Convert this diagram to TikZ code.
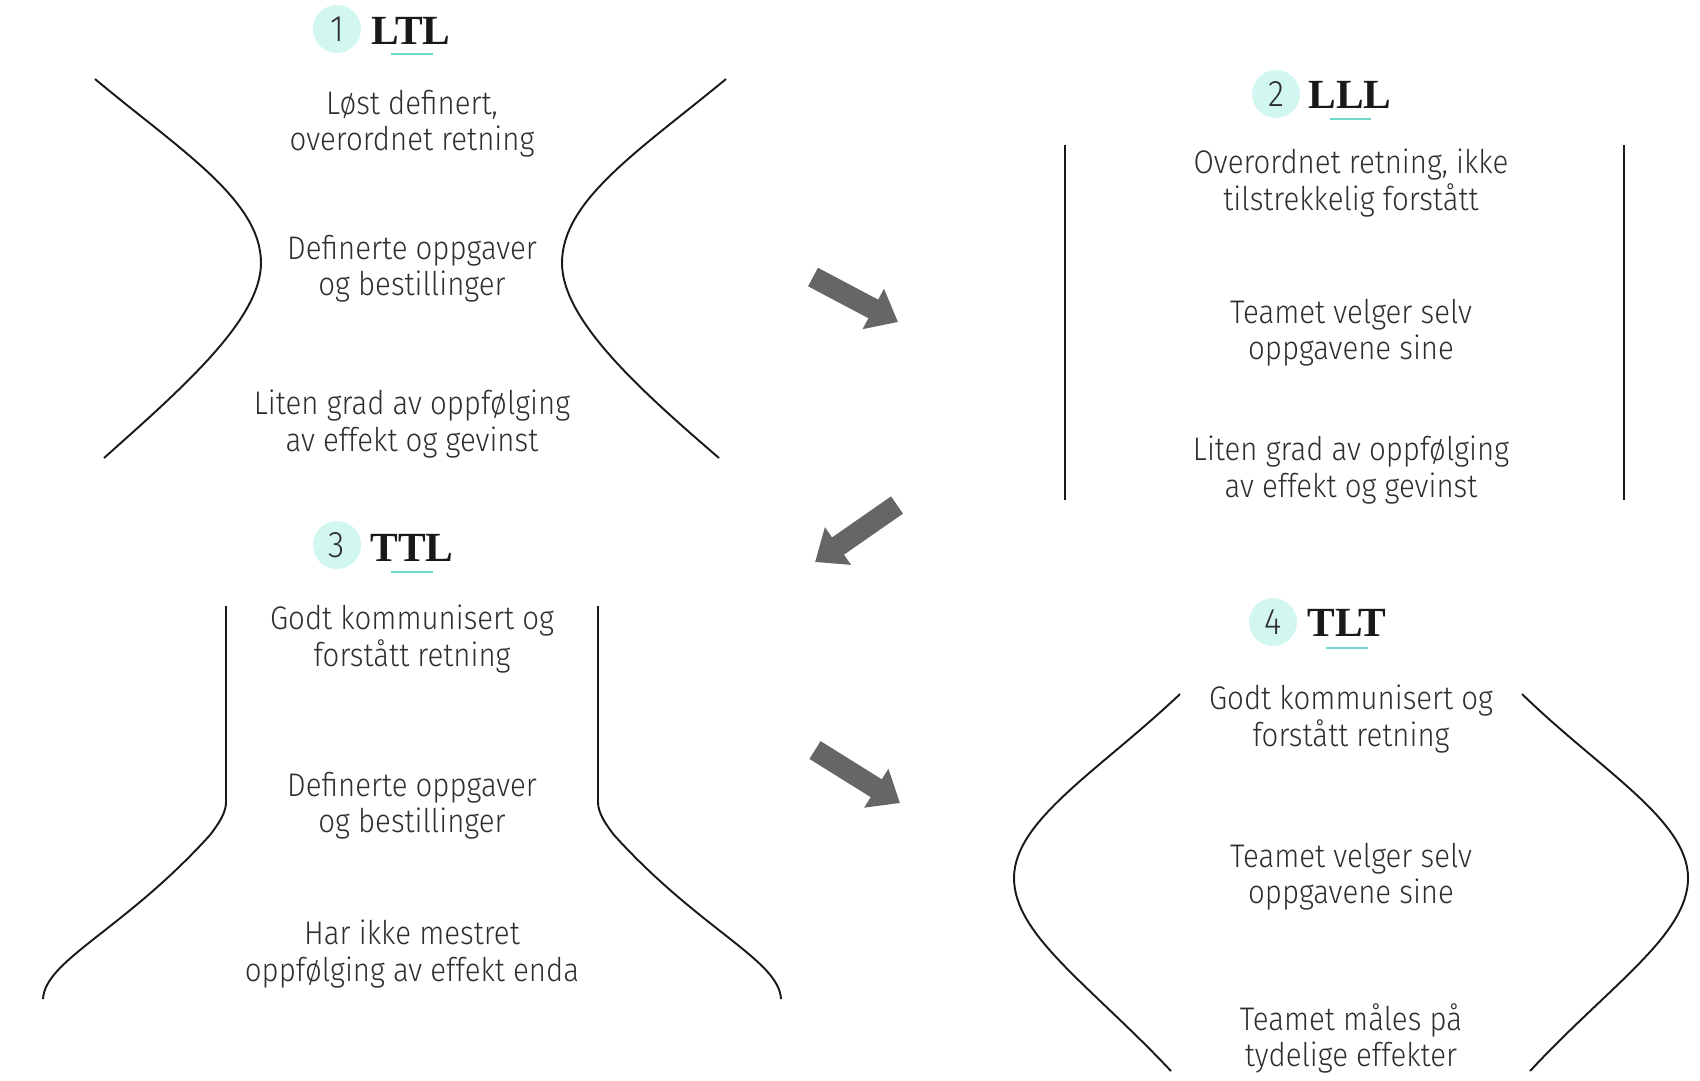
\documentclass[tikz,border=0pt]{standalone}
\usepackage{fontspec}
\setmainfont{Fira Sans}[UprightFont=* Light, FakeStretch=0.9]
\newfontfamily\titlefont{Liberation Serif}[UprightFont=* Bold]
\usetikzlibrary{arrows.meta}
\definecolor{mint}{HTML}{D2F7F1}
\definecolor{tealline}{HTML}{6ED8CB}
\definecolor{txt}{HTML}{2E2E2E}
\definecolor{arrowgray}{HTML}{666666}
\tikzset{
  body/.style={align=center, text=txt, font=\fontsize{9.3}{10.3}\selectfont, inner sep=0pt},
  numcircle/.style={circle, fill=mint, minimum size=4.8mm, inner sep=0pt, text=txt, font=\fontsize{10.5}{12}\selectfont},
  ttl/.style={text=black!90, font=\titlefont\fontsize{11.8}{13}\selectfont, inner sep=0pt},
  uline/.style={draw=tealline, line width=0.2mm},
  outline/.style={draw=black!90, line width=0.55pt},
  bigarrow/.style={draw=arrowgray, line width=2.1mm, -{Triangle[length=2.8mm, width=4.4mm, fill=arrowgray]}}
}
\begin{document}
\begin{tikzpicture}[x=0.1mm, y=-0.1mm]
\useasboundingbox (0,0) rectangle (1700,1080);

% ---------- Panel 1: LTL ----------
\node[numcircle] (c1) at (337,29) {1};
\node[ttl] (t1) at (411,31) {LTL};
\draw[uline] (391,54) -- (433,54);
\node[body] (p1a) at (412,124) {Løst definert,\\overordnet retning};
\node[body] (p1b) at (412,269) {Definerte oppgaver\\og bestillinger};
\node[body] (p1c) at (412,424) {Liten grad av oppfølging\\av effekt og gevinst};
\draw[outline] (95,79) .. controls (180,150) and (261,200) .. (261,263)
  .. controls (261,320) and (180,390) .. (104,458);
\draw[outline] (726,79) .. controls (640,150) and (562,200) .. (562,263)
  .. controls (562,320) and (640,390) .. (719,458);

% ---------- Panel 2: LLL ----------
\node[numcircle] (c2) at (1276,94) {2};
\node[ttl] (t2) at (1350,95) {LLL};
\draw[uline] (1330,119) -- (1371,119);
\node[body] (p2a) at (1351,183) {Overordnet retning, ikke\\tilstrekkelig forstått};
\node[body] (p2b) at (1351,333) {Teamet velger selv\\oppgavene sine};
\node[body] (p2c) at (1351,470) {Liten grad av oppfølging\\av effekt og gevinst};
\draw[outline] (1065,145) -- (1065,500);
\draw[outline] (1624,145) -- (1624,500);

% ---------- Panel 3: TTL ----------
\node[numcircle] (c3) at (337,545) {3};
\node[ttl] (t3) at (412,548) {TTL};
\draw[uline] (391,572) -- (433,572);
\node[body] (p3a) at (412,639) {Godt kommunisert og\\forstått retning};
\node[body] (p3b) at (412,806) {Definerte oppgaver\\og bestillinger};
\node[body] (p3c) at (412,954) {Har ikke mestret\\oppfølging av effekt enda};
\draw[outline] (226,606) -- (226,802) .. controls (226,812) and (220,822) .. (210,835)
  .. controls (124,930) and (45,960) .. (43,999);
\draw[outline] (598,606) -- (598,802) .. controls (598,812) and (604,822) .. (614,835)
  .. controls (700,930) and (779,960) .. (781,999);

% ---------- Panel 4: TLT ----------
\node[numcircle] (c4) at (1273,622) {4};
\node[ttl] (t4) at (1347,623) {TLT};
\draw[uline] (1326,648) -- (1368,648);
\node[body] (p4a) at (1351,719) {Godt kommunisert og\\forstått retning};
\node[body] (p4b) at (1351,877) {Teamet velger selv\\oppgavene sine};
\node[body] (p4c) at (1351,1038) {Teamet måles på\\tydelige effekter};
\draw[outline] (1180,694) .. controls (1100,770) and (1014,820) .. (1014,878)
  .. controls (1014,935) and (1090,985) .. (1171,1071);
\draw[outline] (1522,694) .. controls (1600,770) and (1688,820) .. (1688,878)
  .. controls (1688,935) and (1610,985) .. (1530,1071);

% ---------- Arrows ----------
\coordinate (a1s) at (813,277); \coordinate (a1e) at (898,322);
\coordinate (a2s) at (897,505); \coordinate (a2e) at (815,562);
\coordinate (a3s) at (815,750); \coordinate (a3e) at (900,803);
\draw[bigarrow] (a1s) -- (a1e);
\draw[bigarrow] (a2s) -- (a2e);
\draw[bigarrow] (a3s) -- (a3e);
\end{tikzpicture}
\end{document}
